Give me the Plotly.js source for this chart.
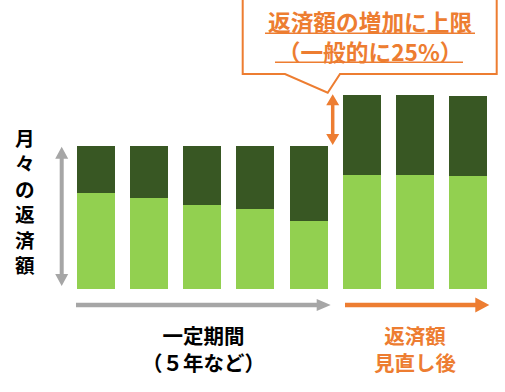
<!DOCTYPE html>
<html><head><meta charset="utf-8">
<script src="https://cdn.plot.ly/plotly-3.0.1.min.js"></script>
<style>html,body{margin:0;padding:0;background:#fff}#chart{width:505px;height:392px}</style>
</head><body><div id="chart"></div>
<script>
// ---- data ----
const categories = ['1','2','3','4','5','6','7','8'];
const lowerPart = [67, 64, 59, 56, 48, 80, 80, 79];   // light green
const upperPart = [33, 36, 41, 44, 52, 56, 56, 56];   // dark green
const verticalLabel = ['月','々','の','返','済','額'];
const periodLabel = ['一定期間','（５年など）'];
const afterLabel = ['返済額','見直し後'];
const calloutLabel = ['返済額の増加に上限','（一般的に25%）'];

// ---- layout helpers ----
const W=505, H=392, M={l:69, r:10, t:75, b:103};
const pw=W-M.l-M.r, ph=H-M.t-M.b;
const px=x=>(x-M.l)/pw, py=y=>(H-M.b-y)/ph;
const ORANGE='#ed7d31', GRAY='#a6a6a6';
const FONT='"Noto Sans CJK JP", "Noto Sans", sans-serif';

function poly(pts){
  return 'M '+pts.map(p=>px(p[0]).toFixed(5)+' '+py(p[1]).toFixed(5)).join(' L ')+' Z';
}
function hArrow(x0,x1,y,t,hl,hw,color){
  const pts=[[x0,y-t/2],[x1-hl,y-t/2],[x1-hl,y-hw/2],[x1,y],[x1-hl,y+hw/2],[x1-hl,y+t/2],[x0,y+t/2]];
  return {type:'path',xref:'paper',yref:'paper',path:poly(pts),fillcolor:color,line:{width:0},layer:'above'};
}
function vDArrow(x,y0,y1,t,hl,hw,color){
  const pts=[[x,y0],[x+hw/2,y0+hl],[x+t/2,y0+hl],[x+t/2,y1-hl],[x+hw/2,y1-hl],[x,y1],
             [x-hw/2,y1-hl],[x-t/2,y1-hl],[x-t/2,y0+hl],[x-hw/2,y0+hl]];
  return {type:'path',xref:'paper',yref:'paper',path:poly(pts),fillcolor:color,line:{width:0},layer:'above'};
}
function hLine(x0,x1,y,color,w){
  return {type:'line',xref:'paper',yref:'paper',x0:px(x0),x1:px(x1),y0:py(y),y1:py(y),line:{color:color,width:w},layer:'above'};
}
function label(text,x,y,color,size){
  return {xref:'paper',yref:'paper',x:px(x),y:py(y),xanchor:'center',yanchor:'middle',showarrow:false,
          text:text,font:{family:FONT,size:size,color:color,weight:'bold'}};
}

const traces=[
  {type:'bar',x:categories,y:lowerPart,marker:{color:'#92d050',line:{width:0}},hoverinfo:'skip'},
  {type:'bar',x:categories,y:upperPart,marker:{color:'#385723',line:{width:0}},hoverinfo:'skip'}
];

const callout={type:'path',xref:'paper',yref:'paper',
  path:'M '+[[242.7,-3],[242.7,74],[285,74],[327.7,92.7],[340,74],[496.7,74],[496.7,-3]].map(p=>px(p[0])+' '+py(p[1])).join(' L ')+' Z',
  fillcolor:'#ffffff',line:{color:ORANGE,width:2},layer:'above'};

const layout={
  width:W,height:H,margin:M,paper_bgcolor:'#fff',plot_bgcolor:'#fff',
  barmode:'stack',bargap:0.283,showlegend:false,
  xaxis:{visible:false,type:'category',range:[-0.5,7.5],fixedrange:true},
  yaxis:{visible:false,range:[0,150],fixedrange:true},
  shapes:[
    callout,
    hLine(265,475,33.3,ORANGE,1.5),
    hLine(275,463,62.3,ORANGE,1.5),
    vDArrow(332.7,94.3,145,3.5,11,13,ORANGE),
    vDArrow(61.7,146.7,286,4,12,13,GRAY),
    hArrow(76,330.7,305,4.5,14,12,GRAY),
    hArrow(345,489.3,305,4.5,14,15,ORANGE)
  ],
  annotations:[
    label(calloutLabel.join('<br>'),370,36.8,ORANGE,22.7),
    label(verticalLabel.join('<br>'),25,201,'#000',19.6),
    label(periodLabel.join('<br>'),203,348,'#000',20.5),
    label(afterLabel.join('<br>'),415,348,ORANGE,20.5)
  ]
};
Plotly.newPlot('chart',traces,layout,{staticPlot:true,displayModeBar:false});
</script></body></html>
